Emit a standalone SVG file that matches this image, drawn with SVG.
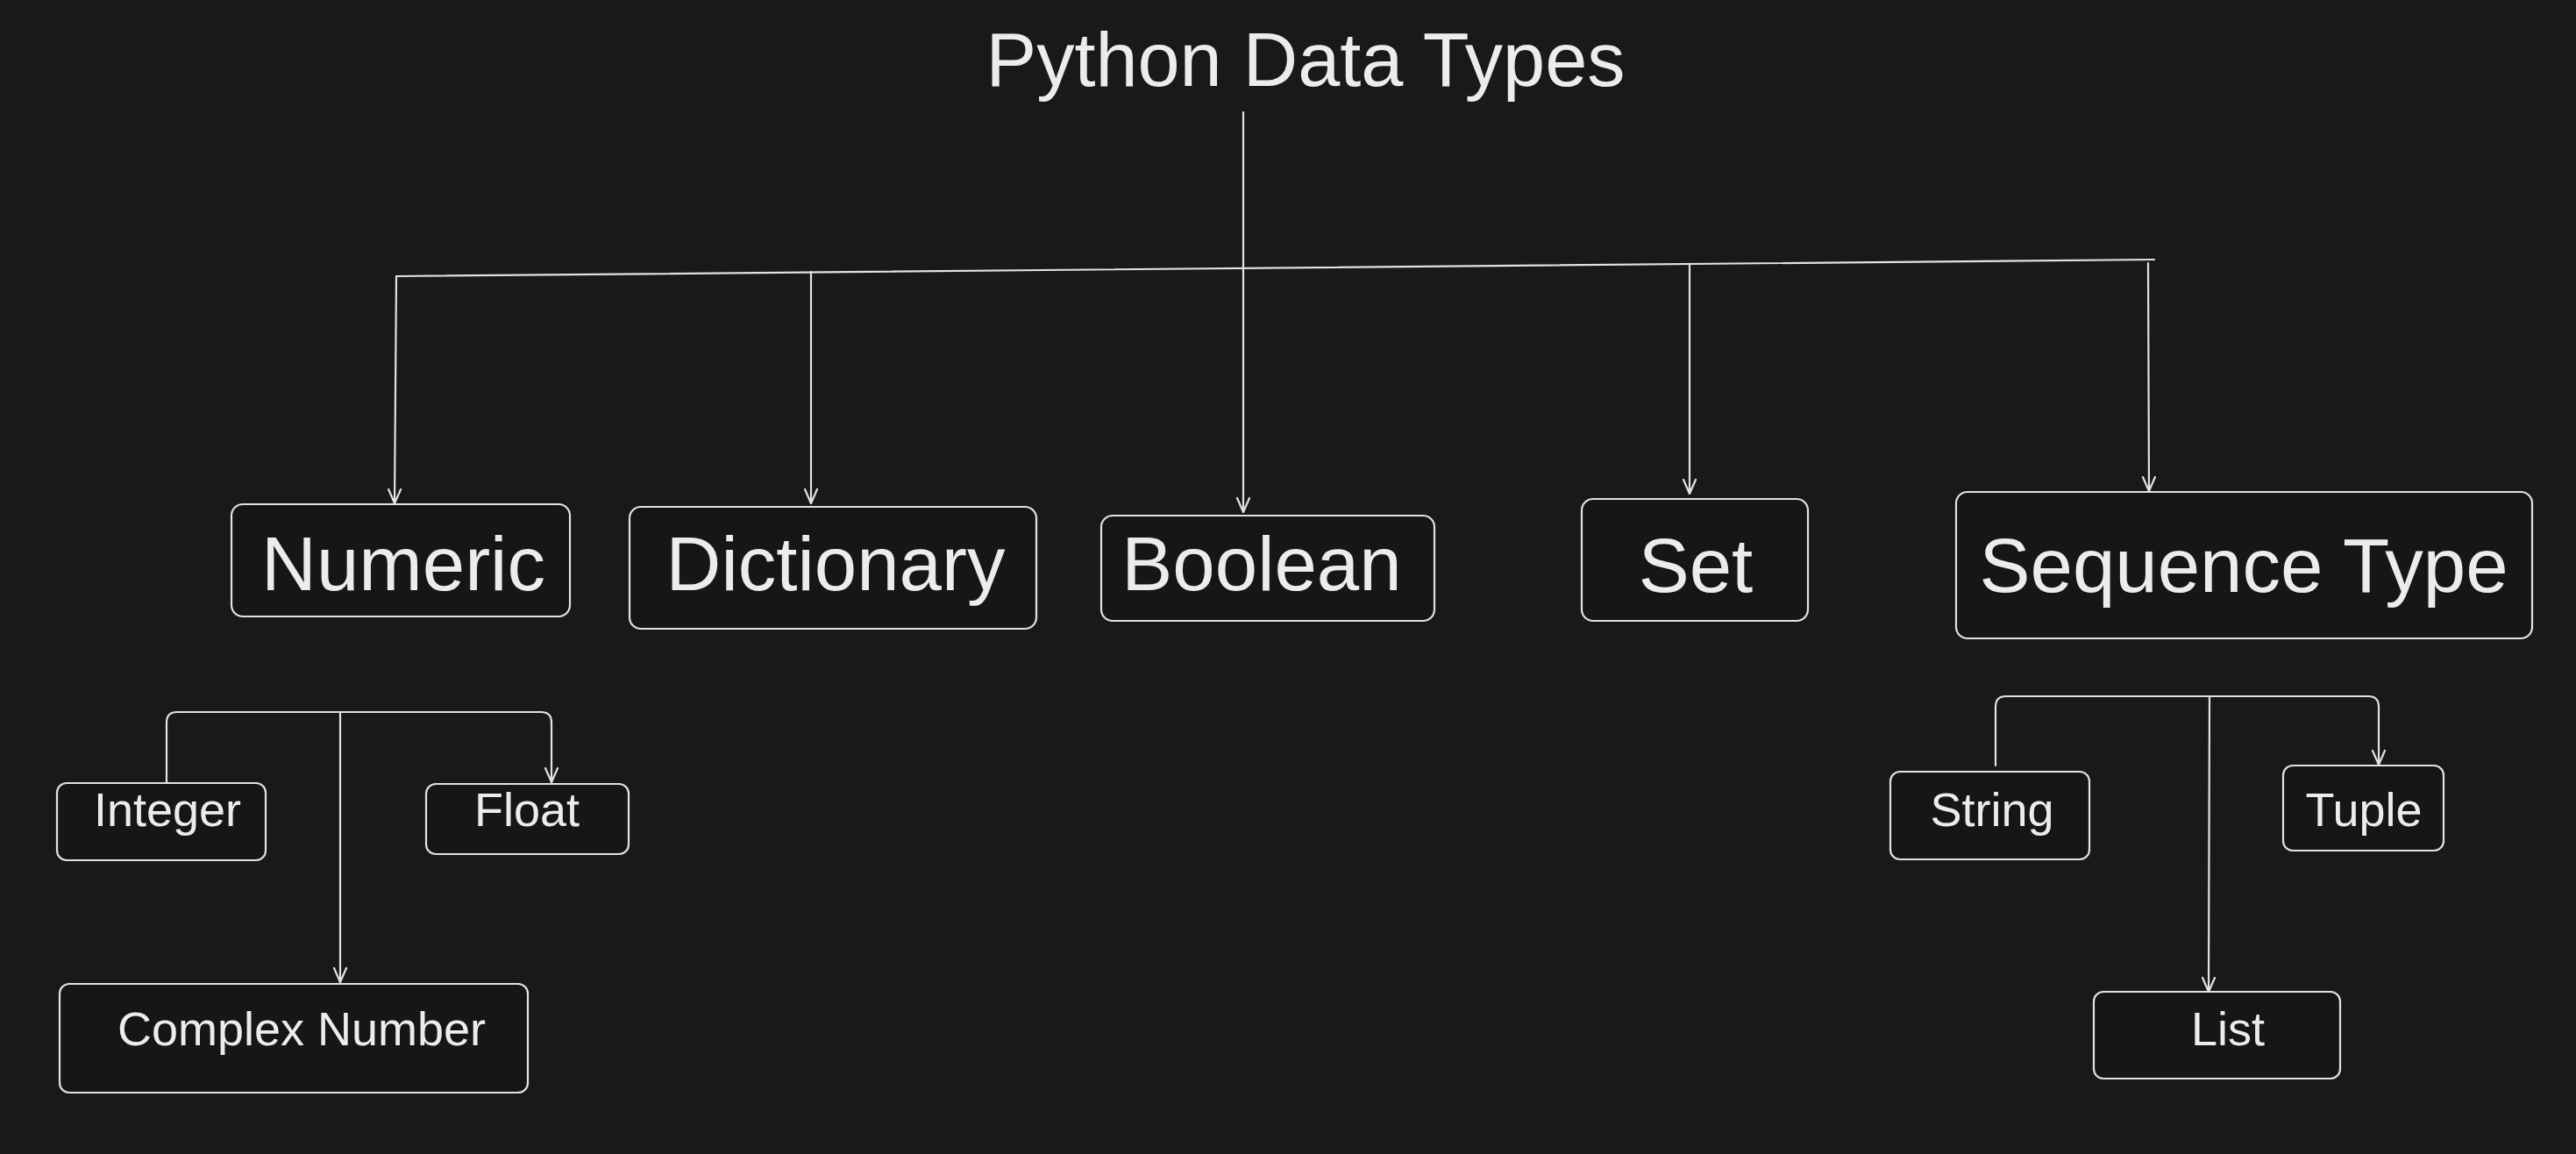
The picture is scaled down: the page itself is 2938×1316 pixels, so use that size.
<svg xmlns="http://www.w3.org/2000/svg" width="2938" height="1316" viewBox="0 0 2938 1316">
<defs>
<style>
.box{fill:#161616;stroke:#e2e2e2;stroke-width:2.2}
.c{fill:none;stroke:#e2e2e2;stroke-width:2.2;stroke-linecap:round}
.t{font-family:"Liberation Sans",Arial,sans-serif;fill:#ececec;text-anchor:middle}
.big{font-size:87px}
.sm{font-size:54px}
</style>
<marker id="ah" viewBox="0 0 20 20" refX="19" refY="10" markerWidth="20" markerHeight="20" markerUnits="userSpaceOnUse" orient="auto">
<path d="M3,3 L19,10 L3,17" fill="none" stroke="#e2e2e2" stroke-width="2.2" stroke-linecap="round" stroke-linejoin="round"/>
</marker>
</defs>
<rect width="2938" height="1316" fill="#191919"/>
<g id="title"><text class="t" x="1489" y="98" font-size="88" textLength="729" lengthAdjust="spacingAndGlyphs">Python Data Types</text></g>
<g id="connectors">
<path class="c" d="M1418,128 L1418,584" marker-end="url(#ah)"/>
<path class="c" d="M452,315 L2457,296"/>
<path class="c" d="M452,315 L450,574" marker-end="url(#ah)"/>
<path class="c" d="M925,310 L925,574" marker-end="url(#ah)"/>
<path class="c" d="M1927,301 L1927,563" marker-end="url(#ah)"/>
<path class="c" d="M2450,300 L2451,560" marker-end="url(#ah)"/>
<path class="c" d="M190,893 L190,824 Q190,812 202,812 L617,812 Q629,812 629,824 L629,892" marker-end="url(#ah)"/>
<path class="c" d="M388,813 L388,1120" marker-end="url(#ah)"/>
<path class="c" d="M2276,873 L2276,806 Q2276,794 2288,794 L2701,794 Q2713,794 2713,806 L2713,872" marker-end="url(#ah)"/>
<path class="c" d="M2520,794 L2519,1131" marker-end="url(#ah)"/>
</g>
<g id="numeric"><rect class="box" x="264" y="575" width="386" height="128" rx="13"/><text class="t big" x="460" y="673">Numeric</text></g>
<g id="dictionary"><rect class="box" x="718" y="578" width="464" height="139" rx="13"/><text class="t big" x="953" y="673">Dictionary</text></g>
<g id="boolean"><rect class="box" x="1256" y="588" width="380" height="120" rx="13"/><text class="t big" x="1439" y="673">Boolean</text></g>
<g id="set"><rect class="box" x="1804" y="569" width="258" height="139" rx="13"/><text class="t big" x="1934" y="675">Set</text></g>
<g id="sequence"><rect class="box" x="2231" y="561" width="657" height="167" rx="13"/><text class="t big" x="2559" y="675">Sequence Type</text></g>
<g id="integer"><rect class="box" x="65" y="893" width="238" height="88" rx="11"/><text class="t sm" x="191" y="942">Integer</text></g>
<g id="float"><rect class="box" x="486" y="894" width="231" height="80" rx="11"/><text class="t sm" x="601" y="942">Float</text></g>
<g id="complex"><rect class="box" x="68" y="1122" width="534" height="124" rx="11"/><text class="t sm" x="344" y="1192">Complex Number</text></g>
<g id="string"><rect class="box" x="2156" y="880" width="227" height="100" rx="11"/><text class="t sm" x="2272" y="942">String</text></g>
<g id="tuple"><rect class="box" x="2604" y="873" width="183" height="97" rx="11"/><text class="t sm" x="2696" y="942">Tuple</text></g>
<g id="list"><rect class="box" x="2388" y="1131" width="281" height="99" rx="11"/><text class="t sm" x="2541" y="1192">List</text></g>
</svg>
